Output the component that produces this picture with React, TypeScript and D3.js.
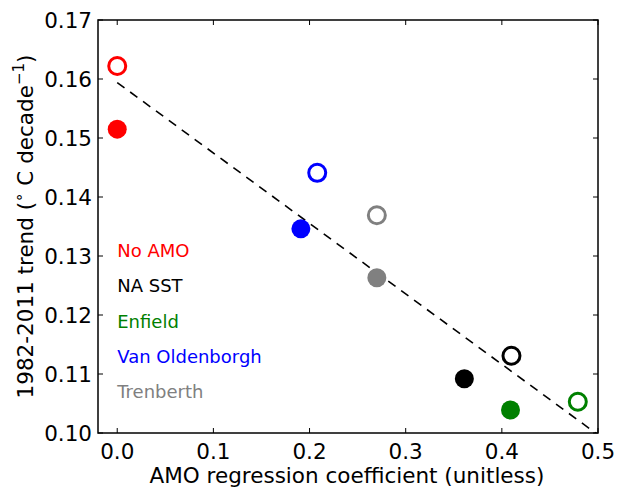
import React from 'react';
import * as d3 from 'd3';

const datasets = ['No AMO', 'NA SST', 'Enfield', 'Van Oldenborgh', 'Trenberth'];
const colors = ['#ff0000', '#000000', '#008000', '#0000ff', '#808080'];
const coefOpen = [0.0, 0.41, 0.479, 0.208, 0.27];
const trendOpen = [0.1622, 0.1131, 0.1053, 0.1441, 0.1369];
const coefFilled = [0.0, 0.361, 0.409, 0.191, 0.27];
const trendFilled = [0.1515, 0.1092, 0.1039, 0.1346, 0.1263];
const fitLine = [
  { x: 0.0, y: 0.1594 },
  { x: 0.5, y: 0.0997 },
];
const xTicks = [0.0, 0.1, 0.2, 0.3, 0.4, 0.5];
const yTicks = [0.1, 0.11, 0.12, 0.13, 0.14, 0.15, 0.16, 0.17];

const W = 619;
const H = 490;
const margin = { top: 20, right: 21, bottom: 57, left: 98 };
const font = 'DejaVu Sans, sans-serif';

export default function App() {
  const x = d3.scaleLinear().domain([-0.02, 0.5]).range([margin.left, W - margin.right]);
  const y = d3.scaleLinear().domain([0.1, 0.17]).range([H - margin.bottom, margin.top]);
  const [x0, x1] = x.range();
  const [y0, y1] = y.range();
  const line = d3.line<{ x: number; y: number }>().x(d => x(d.x)).y(d => y(d.y));
  const tl = 5;

  return (
    <svg width={W} height={H} style={{ position: 'absolute', left: 0, top: 0 }} fontFamily={font}>
      <rect width={W} height={H} fill="#fff" />
      <defs>
        <clipPath id="plot">
          <rect x={x0} y={y1} width={x1 - x0} height={y0 - y1} />
        </clipPath>
      </defs>
      <path d={line(fitLine) || ''} fill="none" stroke="#000" strokeWidth={1.6} strokeDasharray="9,7" clipPath="url(#plot)" />
      {datasets.map((d, i) => (
        <g key={d}>
          <circle cx={x(coefOpen[i])} cy={y(trendOpen[i])} r={8.5} fill="none" stroke={colors[i]} strokeWidth={3} />
          <circle cx={x(coefFilled[i])} cy={y(trendFilled[i])} r={9.5} fill={colors[i]} />
          <text x={x(0)} y={y(0.1305) + 4 + i * 35.3} fontSize={18} fill={colors[i]}>{d}</text>
        </g>
      ))}
      {xTicks.map(t => (
        <g key={'x' + t}>
          <line x1={x(t)} x2={x(t)} y1={y0} y2={y0 - tl} stroke="#000" />
          <line x1={x(t)} x2={x(t)} y1={y1} y2={y1 + tl} stroke="#000" />
          <text x={x(t)} y={y0 + 26} textAnchor="middle" fontSize={21.5}>{t.toFixed(1)}</text>
        </g>
      ))}
      {yTicks.map(t => (
        <g key={'y' + t}>
          <line x1={x0} x2={x0 + tl} y1={y(t)} y2={y(t)} stroke="#000" />
          <line x1={x1} x2={x1 - tl} y1={y(t)} y2={y(t)} stroke="#000" />
          <text x={x0 - 6} y={y(t) + 8} textAnchor="end" fontSize={21.5}>{t.toFixed(2)}</text>
        </g>
      ))}
      <rect x={x0} y={y1} width={x1 - x0} height={y0 - y1} fill="none" stroke="#000" strokeWidth={1.5} />
      <text x={(x0 + x1) / 2 - 1} y={H - 7} textAnchor="middle" fontSize={21.5}>AMO regression coefficient (unitless)</text>
      <text transform={`translate(33,${(y0 + y1) / 2}) rotate(-90)`} textAnchor="middle" fontSize={21.5}>
        1982-2011 trend (
        <tspan fontSize={15} dy={-9}>∘</tspan>
        <tspan dy={9}> C decade</tspan>
        <tspan fontSize={15} dy={-9}>−1</tspan>
        <tspan dy={9}>)</tspan>
      </text>
    </svg>
  );
}
